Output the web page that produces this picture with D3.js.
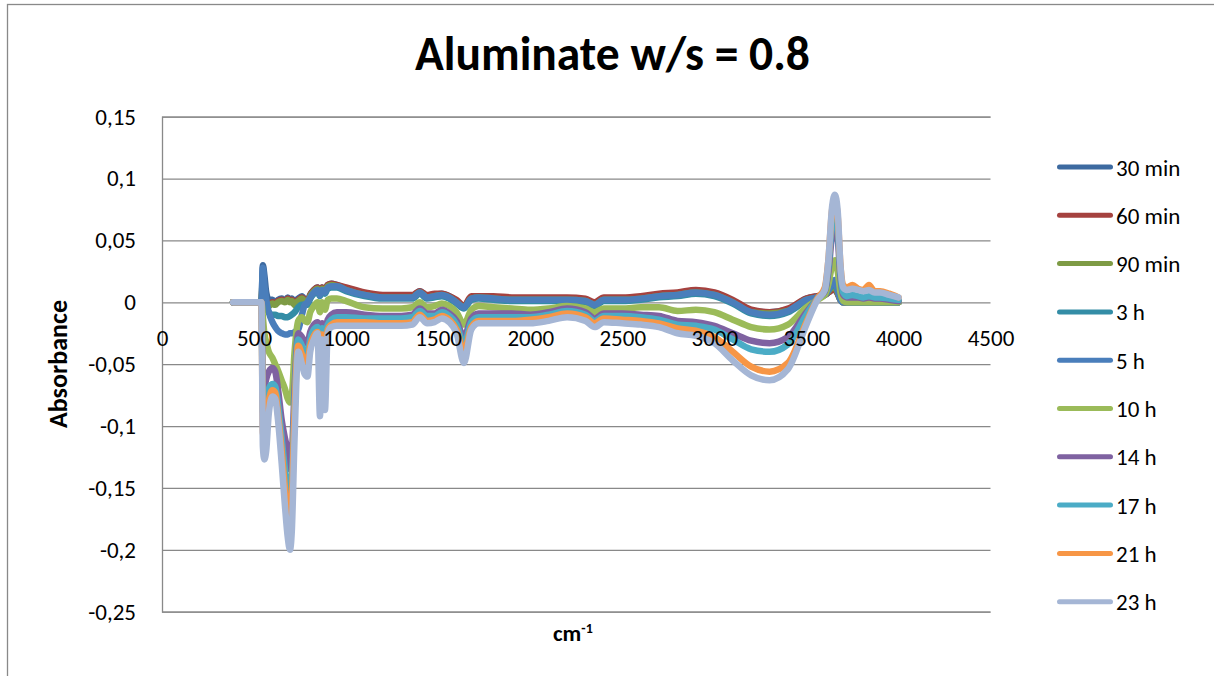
<!DOCTYPE html>
<html>
<head>
<meta charset="utf-8">
<script src="https://cdn.jsdelivr.net/npm/d3@7"></script>
<style>
  body { margin: 0; background: #fff; }
  svg { display: block; }
</style>
</head>
<body>
<svg id="chart" width="1214" height="676"></svg>
<script>
// Wavenumber grid shared by every spectrum (cm-1)
const wavenumbers = [
  386, 540, 548, 556, 566, 580, 600, 615, 630, 650,
  668, 683, 695, 705, 720, 740, 760, 775, 790, 805,
  825, 845, 858, 870, 885, 900, 920, 950, 1000, 1100,
  1200, 1300, 1360, 1400, 1440, 1480, 1520, 1560, 1600, 1640,
  1680, 1720, 1800, 1900, 2000, 2100, 2200, 2300, 2350, 2400,
  2500, 2600, 2700, 2800, 2900, 3000, 3100, 3200, 3300, 3400,
  3500, 3560, 3600, 3620, 3640, 3655, 3670, 3685, 3700, 3720,
  3750, 3780, 3810, 3840, 3870, 3900, 3950, 4000
];

// Absorbance difference spectra, one per hydration time
const abs30min = [
  0, 0, 0.030, 0.022, 0.008, 0.002, 0.002, 0.000, 0.002, 0.003,
  0.002, 0.004, 0.002, 0.003, 0.000, 0.003, 0.005, 0.002, 0.000, 0.006,
  0.010, 0.012, 0.008, 0.012, 0.010, 0.014, 0.015, 0.014, 0.011, 0.007,
  0.005, 0.005, 0.005, 0.009, 0.005, 0.006, 0.007, 0.005, 0.001, -0.003,
  0.004, 0.005, 0.004, 0.003, 0.003, 0.003, 0.003, 0.002, -0.001, 0.003,
  0.003, 0.004, 0.006, 0.007, 0.009, 0.007, 0.001, -0.007, -0.008, -0.006,
  0.003, 0.005, 0.006, 0.008, 0.010, 0.010, 0.007, 0.002, 0.000, 0.000,
  0, 0, 0, 0, 0, 0, 0, 0
];
const abs60min = [
  0, 0, 0.016, 0.006, -0.003, -0.002, 0.000, -0.001, 0.001, 0.002,
  0.001, 0.003, 0.001, 0.002, 0.000, 0.002, 0.004, 0.002, 0.000, 0.006,
  0.010, 0.012, 0.008, 0.012, 0.010, 0.014, 0.015, 0.014, 0.012, 0.008,
  0.006, 0.006, 0.006, 0.009, 0.006, 0.007, 0.007, 0.005, 0.002, -0.003,
  0.005, 0.005, 0.005, 0.004, 0.004, 0.004, 0.004, 0.003, 0.000, 0.004,
  0.004, 0.005, 0.007, 0.008, 0.010, 0.008, 0.002, -0.006, -0.008, -0.005,
  0.003, 0.005, 0.006, 0.008, 0.010, 0.011, 0.007, 0.002, 0.000, 0.000,
  0, 0, 0, 0, 0, 0, 0, 0
];
const abs90min = [
  0, 0, 0.020, 0.008, 0.000, -0.003, -0.001, -0.002, 0.000, 0.001,
  0.000, 0.002, 0.000, 0.001, -0.002, 0.001, 0.003, 0.001, -0.001, 0.005,
  0.009, 0.011, 0.007, 0.011, 0.009, 0.013, 0.014, 0.013, 0.010, 0.006,
  0.004, 0.004, 0.004, 0.008, 0.004, 0.005, 0.006, 0.004, 0.000, -0.004,
  0.003, 0.004, 0.003, 0.002, 0.002, 0.002, 0.002, 0.001, -0.002, 0.002,
  0.002, 0.003, 0.005, 0.006, 0.008, 0.006, 0.000, -0.008, -0.009, -0.007,
  0.002, 0.004, 0.006, 0.009, 0.012, 0.012, 0.008, 0.002, 0.000, 0.000,
  0, 0, 0, 0, 0, 0, 0, 0
];
const abs3h = [
  0, 0, 0.012, 0.004, -0.004, -0.008, -0.010, -0.010, -0.011, -0.011,
  -0.012, -0.012, -0.011, -0.010, -0.008, -0.004, -0.002, -0.002, -0.002, 0.003,
  0.007, 0.009, 0.005, 0.009, 0.007, 0.011, 0.012, 0.012, 0.009, 0.005,
  0.003, 0.003, 0.003, 0.007, 0.003, 0.004, 0.005, 0.003, -0.001, -0.005,
  0.002, 0.003, 0.002, 0.001, 0.001, 0.001, 0.001, 0.000, -0.003, 0.001,
  0.001, 0.002, 0.004, 0.005, 0.007, 0.005, -0.001, -0.009, -0.011, -0.008,
  0.001, 0.004, 0.006, 0.010, 0.014, 0.015, 0.009, 0.003, 0.001, 0.000,
  0, 0, 0, 0, 0, 0, 0, 0
];
const abs5h = [
  0, 0, 0.028, 0.014, 0.002, -0.008, -0.016, -0.020, -0.023, -0.025,
  -0.026, -0.026, -0.025, -0.025, -0.024, -0.022, -0.010, -0.002, 0.000, 0.004,
  0.008, 0.010, 0.006, 0.010, 0.008, 0.012, 0.013, 0.013, 0.010, 0.006,
  0.004, 0.004, 0.004, 0.008, 0.004, 0.005, 0.006, 0.004, 0.000, -0.004,
  0.003, 0.004, 0.003, 0.002, 0.002, 0.002, 0.002, 0.001, -0.002, 0.002,
  0.002, 0.003, 0.005, 0.006, 0.008, 0.006, 0.000, -0.008, -0.010, -0.007,
  0.002, 0.004, 0.006, 0.010, 0.016, 0.018, 0.010, 0.002, 0.000, 0.000,
  0, 0, 0, 0, 0, 0, 0, 0
];
const abs10h = [
  0, 0, -0.012, -0.025, -0.032, -0.040, -0.045, -0.050, -0.055, -0.063,
  -0.070, -0.078, -0.081, -0.076, -0.040, -0.015, -0.012, -0.015, -0.016, -0.008,
  -0.003, 0.000, -0.008, 0.000, -0.006, 0.002, 0.003, 0.003, 0.001, -0.004,
  -0.005, -0.005, -0.004, 0.000, -0.004, -0.003, -0.001, -0.003, -0.008, -0.018,
  -0.006, -0.003, -0.004, -0.005, -0.006, -0.005, -0.003, -0.005, -0.008, -0.005,
  -0.005, -0.004, -0.004, -0.007, -0.006, -0.008, -0.014, -0.020, -0.022, -0.018,
  -0.004, 0.002, 0.006, 0.015, 0.030, 0.034, 0.025, 0.008, 0.001, 0.000,
  0, 0, 0, 0, 0, 0, 0, 0
];
const abs14h = [
  0, 0, -0.065, -0.068, -0.062, -0.056, -0.053, -0.056, -0.070, -0.095,
  -0.110, -0.120, -0.135, -0.125, -0.070, -0.025, -0.028, -0.032, -0.033, -0.024,
  -0.018, -0.016, -0.026, -0.017, -0.024, -0.014, -0.010, -0.008, -0.008, -0.010,
  -0.011, -0.011, -0.010, -0.005, -0.009, -0.009, -0.006, -0.009, -0.015, -0.028,
  -0.013, -0.009, -0.009, -0.009, -0.010, -0.008, -0.005, -0.008, -0.013, -0.009,
  -0.009, -0.010, -0.011, -0.015, -0.016, -0.019, -0.025, -0.031, -0.033, -0.028,
  -0.008, 0.003, 0.009, 0.025, 0.055, 0.062, 0.052, 0.020, 0.006, 0.004,
  0.004, 0.004, 0.003, 0.004, 0.003, 0.003, 0.002, 0.001
];
const abs17h = [
  0, 0, -0.088, -0.092, -0.085, -0.070, -0.066, -0.068, -0.082, -0.110,
  -0.135, -0.150, -0.155, -0.145, -0.080, -0.030, -0.035, -0.040, -0.042, -0.030,
  -0.022, -0.020, -0.035, -0.021, -0.032, -0.018, -0.014, -0.012, -0.012, -0.013,
  -0.013, -0.013, -0.012, -0.007, -0.011, -0.011, -0.008, -0.011, -0.018, -0.034,
  -0.016, -0.012, -0.012, -0.012, -0.012, -0.010, -0.007, -0.010, -0.015, -0.011,
  -0.011, -0.012, -0.014, -0.018, -0.019, -0.022, -0.030, -0.038, -0.040, -0.034,
  -0.010, 0.003, 0.010, 0.030, 0.065, 0.072, 0.060, 0.025, 0.008, 0.005,
  0.006, 0.005, 0.004, 0.005, 0.004, 0.004, 0.003, 0.002
];
const abs21h = [
  0, 0, -0.105, -0.110, -0.105, -0.080, -0.071, -0.073, -0.090, -0.120,
  -0.150, -0.168, -0.175, -0.160, -0.090, -0.035, -0.042, -0.047, -0.048, -0.035,
  -0.027, -0.024, -0.045, -0.026, -0.042, -0.022, -0.018, -0.016, -0.016, -0.016,
  -0.017, -0.017, -0.016, -0.010, -0.015, -0.014, -0.011, -0.014, -0.022, -0.040,
  -0.020, -0.015, -0.015, -0.015, -0.014, -0.012, -0.009, -0.012, -0.017, -0.013,
  -0.014, -0.015, -0.017, -0.021, -0.023, -0.028, -0.040, -0.052, -0.056, -0.049,
  -0.016, 0.003, 0.012, 0.035, 0.075, 0.082, 0.070, 0.030, 0.014, 0.012,
  0.014, 0.011, 0.010, 0.014, 0.009, 0.009, 0.007, 0.004
];
const abs23h = [
  0, 0, -0.117, -0.127, -0.120, -0.090, -0.076, -0.078, -0.095, -0.130,
  -0.165, -0.190, -0.200, -0.185, -0.110, -0.040, -0.050, -0.058, -0.060, -0.040,
  -0.030, -0.025, -0.092, -0.030, -0.087, -0.025, -0.020, -0.019, -0.019, -0.019,
  -0.019, -0.019, -0.018, -0.012, -0.017, -0.016, -0.013, -0.016, -0.025, -0.049,
  -0.022, -0.017, -0.017, -0.017, -0.017, -0.015, -0.012, -0.015, -0.020, -0.016,
  -0.017, -0.018, -0.020, -0.025, -0.027, -0.033, -0.047, -0.059, -0.063, -0.054,
  -0.018, 0.002, 0.010, 0.035, 0.078, 0.087, 0.074, 0.030, 0.012, 0.010,
  0.011, 0.010, 0.009, 0.010, 0.008, 0.008, 0.006, 0.004
];

const seriesLabels = ["30 min", "60 min", "90 min", "3 h", "5 h", "10 h", "14 h", "17 h", "21 h", "23 h"];
const seriesValues = [abs30min, abs60min, abs90min, abs3h, abs5h, abs10h, abs14h, abs17h, abs21h, abs23h];
const seriesColors = ["#3D6AA0", "#A5423F", "#7E9B45", "#348DA6", "#4A7EBB",
                      "#9BBB59", "#7F62A1", "#4BACC6", "#F79646", "#A5B6D5"];

const xTicks = [0, 500, 1000, 1500, 2000, 2500, 3000, 3500, 4000, 4500];
const yTicks = [0.15, 0.1, 0.05, 0, -0.05, -0.1, -0.15, -0.2, -0.25];

const FONT = "Carlito, Calibri, Lato, 'Open Sans', sans-serif";
const GRID = "#898989";

const svg = d3.select("#chart");
svg.append("rect").attr("width", 1214).attr("height", 676).attr("fill", "#fff");

// chart frame (only its left and top edges fall inside the page)
svg.append("rect")
  .attr("x", 7.5).attr("y", 4.5).attr("width", 1400).attr("height", 900)
  .attr("fill", "none").attr("stroke", GRID).attr("stroke-width", 1.3);

const plotLeft = 162, plotRight = 990.5, plotTop = 116.7, plotBottom = 611.7;
const x = d3.scaleLinear().domain([0, 4500]).range([plotLeft, plotRight]);
const y = d3.scaleLinear().domain([-0.25, 0.15]).range([plotBottom, plotTop]);

const commaFmt = d => String(d).replace(".", ",");

// value axis with horizontal gridlines
const yAxis = svg.append("g")
  .attr("transform", `translate(${plotLeft},0)`)
  .call(d3.axisLeft(y).tickValues(yTicks).tickFormat(commaFmt)
        .tickSize(-(plotRight - plotLeft)).tickPadding(26));
yAxis.select(".domain").attr("stroke", GRID).attr("stroke-width", 1.3);
yAxis.selectAll(".tick line").attr("stroke", GRID).attr("stroke-width", 1.3);
yAxis.selectAll(".tick text")
  .attr("font-family", FONT).attr("font-size", 23).attr("fill", "#000");

// spectra
const line = d3.line()
  .x((d, i) => x(wavenumbers[i]))
  .y(d => y(d))
  .curve(d3.curveMonotoneX);

svg.append("g").selectAll("path")
  .data(seriesValues)
  .join("path")
  .attr("d", d => line(d))
  .attr("fill", "none")
  .attr("stroke", (d, i) => seriesColors[i])
  .attr("stroke-width", 6.5)
  .attr("stroke-linejoin", "round")
  .attr("stroke-linecap", "round");

// wavenumber axis crossing at zero, labels drawn over the spectra
const xAxis = svg.append("g")
  .attr("transform", `translate(0,${y(0)})`)
  .call(d3.axisBottom(x).tickValues(xTicks).tickFormat(d3.format("d"))
        .tickSize(0).tickPadding(27));
xAxis.select(".domain").remove();
xAxis.selectAll(".tick text")
  .attr("font-family", FONT).attr("font-size", 23).attr("fill", "#000");

function fitWidth(sel, target) {
  const w = sel.node().getComputedTextLength();
  const fs = parseFloat(sel.attr("font-size"));
  sel.attr("font-size", fs * target / w);
}

// title
const title = svg.append("text")
  .attr("x", 612.5).attr("y", 70)
  .attr("text-anchor", "middle")
  .attr("font-family", FONT).attr("font-weight", "bold").attr("font-size", 44)
  .attr("fill", "#000")
  .text("Aluminate w/s = 0.8");
fitWidth(title, 395);

// axis titles
const yTitle = svg.append("text")
  .attr("transform", "translate(67,364) rotate(-90)")
  .attr("text-anchor", "middle")
  .attr("font-family", FONT).attr("font-weight", "bold").attr("font-size", 22)
  .attr("fill", "#000")
  .text("Absorbance");
fitWidth(yTitle, 128);

const xTitle = svg.append("text")
  .attr("x", 553).attr("y", 641)
  .attr("font-family", FONT).attr("font-weight", "bold").attr("font-size", 23)
  .attr("fill", "#000");
xTitle.append("tspan").text("cm");
xTitle.append("tspan").attr("font-size", 14).attr("dy", -8).text("-1");

// legend
const legend = svg.append("g");
const rowY = i => 167 + i * 48.3;
seriesLabels.forEach((label, i) => {
  legend.append("line")
    .attr("x1", 1059.5).attr("x2", 1110.5)
    .attr("y1", rowY(i)).attr("y2", rowY(i))
    .attr("stroke", seriesColors[i]).attr("stroke-width", 5)
    .attr("stroke-linecap", "round");
  legend.append("text")
    .attr("x", 1116).attr("y", rowY(i) + 8.5)
    .attr("font-family", FONT).attr("font-size", 23).attr("fill", "#000")
    .text(label);
});
</script>
</body>
</html>
